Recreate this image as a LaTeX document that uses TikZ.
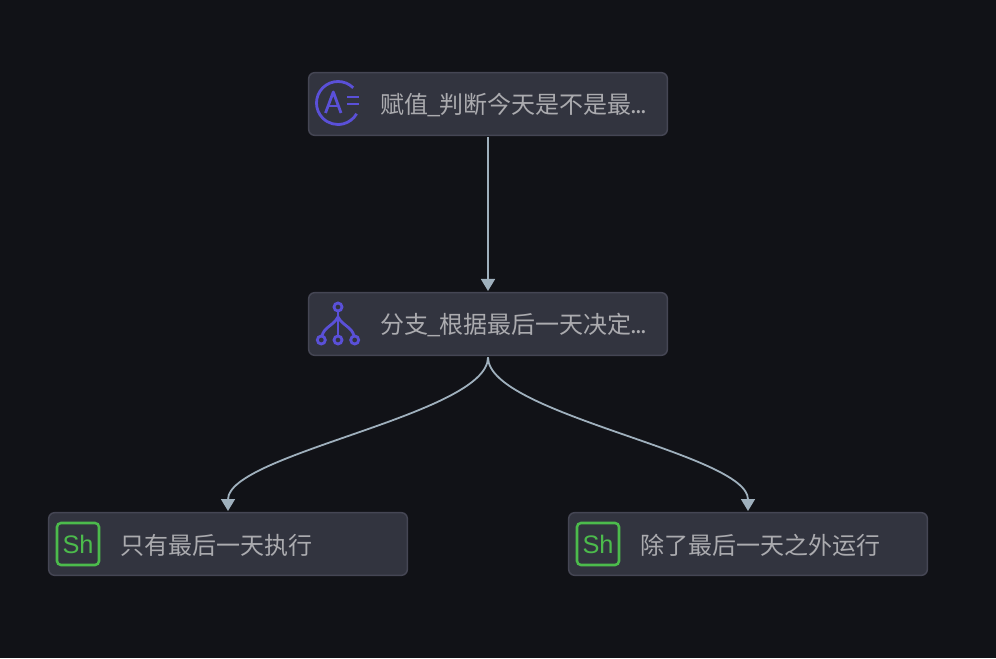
\documentclass[tikz,border=0pt]{standalone}
\usepackage{fontspec}
\setmainfont{Liberation Sans}
\newfontfamily\cjk{Noto Sans CJK SC}
\usetikzlibrary{arrows.meta, positioning, calc}
\definecolor{pagebg}{HTML}{111217}
\definecolor{boxfill}{HTML}{32343F}
\definecolor{boxline}{HTML}{454654}
\definecolor{boxtext}{HTML}{ABABAF}
\definecolor{flowline}{HTML}{9FB0BD}
\definecolor{iconblue}{HTML}{5A50D8}
\definecolor{icongreen}{HTML}{4CBB4C}
\tikzset{
  stepbox/.style={draw=boxline, fill=boxfill, line width=1.1pt, rounded corners=4.5pt,
    minimum width=269pt, minimum height=47pt, inner sep=0pt, outer sep=0pt},
  steptext/.style={anchor=west, text=boxtext, font=\cjk\fontsize{18}{20}\selectfont, inner sep=0pt},
  shicon/.style={draw=icongreen, line width=1.9pt, rounded corners=3pt, text=icongreen,
    minimum size=31.5pt, inner sep=0pt, outer sep=0pt, font=\fontsize{19}{20}\selectfont},
  flow/.style={draw=flowline, line width=1.35pt, shorten <=1.5pt, shorten >=1.25pt,
    -{Triangle[length=9pt,width=10.5pt]}},
  iconline/.style={draw=iconblue, line width=2.1pt},
  assignicon/.pic={
    \draw[iconline] (45:21.5) arc (45:330:21.5);
    \draw[iconline, line join=round] (-12.5,-10) -- (-4.7,11) -- (3,-10);
    \draw[iconline] (-9.5,-3) -- (0.5,-3);
    \draw[iconline] (9,6) -- (21,6);
    \draw[iconline] (9,-1) -- (21,-1);
  },
  branchicon/.pic={
    \draw[iconline] (0,17) circle (4);
    \foreach \x in {-16.7,0,16.7}
      \draw[iconline] (\x,-16) circle (4);
    \draw[iconline] (0,13) -- (0,-12);
    \draw[iconline] (0,7) .. controls (-5,-2) and (-14,-3) .. (-16,-12);
    \draw[iconline] (0,7) .. controls (5,-2) and (14,-3) .. (16,-12);
  }
}
\newcommand{\dotsend}{\hspace{-1pt}.\hspace{-1pt}.\hspace{-1pt}.}
\newcommand{\lowbar}{\hspace{-1pt}\_\hspace{-1pt}}
\begin{document}
\begin{tikzpicture}[x=0.75pt, y=0.75pt]
\useasboundingbox (0,0) rectangle (996,658);
\fill[pagebg] (0,0) rectangle (996,658);
% Boxes
\node[stepbox] (Assign) at (488,554) {};
\node[stepbox, below=118pt of Assign] (Branch) {};
\node[stepbox, below=118pt of Branch, xshift=-195pt] (Last) {};
\node[stepbox, below=118pt of Branch, xshift=195pt] (Others) {};
% Texts
\node[steptext] (AssignText) at ([xshift=53.75pt,yshift=-0.75pt]Assign.west) {赋值\lowbar 判断今天是不是最\dotsend};
\node[steptext] (BranchText) at ([xshift=53.75pt,yshift=-0.75pt]Branch.west) {分支\lowbar 根据最后一天决定\dotsend};
\node[steptext] (LastText) at ([xshift=53.75pt,yshift=-0.75pt]Last.west) {只有最后一天执行};
\node[steptext] (OthersText) at ([xshift=53.75pt,yshift=-0.75pt]Others.west) {除了最后一天之外运行};
% Icons
\pic at ([xshift=22pt,yshift=0.75pt]Assign.west) {assignicon};
\pic at ([xshift=22pt]Branch.west) {branchicon};
\node[shicon] (LastIcon) at ([xshift=22pt]Last.west) {Sh};
\node[shicon] (OthersIcon) at ([xshift=22pt]Others.west) {Sh};
% Arrows
\draw[flow] (Assign) -- (Branch);
\draw[flow] (Branch.south) .. controls +(0,-59) and +(0,59) .. (Last.north);
\draw[flow] (Branch.south) .. controls +(0,-59) and +(0,59) .. (Others.north);
\end{tikzpicture}
\end{document}
